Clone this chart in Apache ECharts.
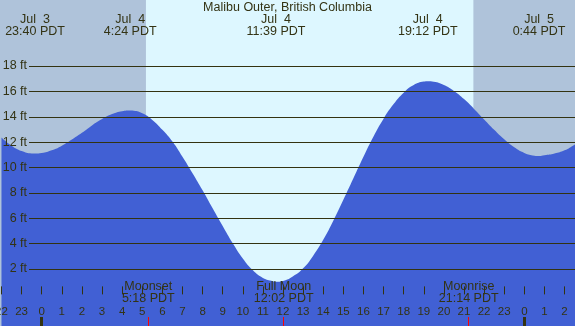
<!DOCTYPE html>
<html>
<head>
<meta charset="utf-8">
<script src="https://cdn.jsdelivr.net/npm/echarts@6/dist/echarts.min.js"></script>
<style>
  html, body { margin: 0; padding: 0; background: #ddf7ff; }
  #chart { width: 575px; height: 326px; }
</style>
</head>
<body>
<div id="chart"></div>
<script>
// tide height, every half hour (hours from Jul 4 00:00 PDT)
var curveHours = [-2, -1.5, -1, -0.5, 0, 0.5, 1, 1.5, 2, 2.5, 3, 3.5, 4, 4.5, 5, 5.5, 6, 6.5, 7, 7.5,
  8, 8.5, 9, 9.5, 10, 10.5, 11, 11.5, 12, 12.5, 13, 13.5, 14, 14.5, 15, 15.5, 16, 16.5, 17, 17.5,
  18, 18.5, 19, 19.5, 20, 20.5, 21, 21.5, 22, 22.5, 23, 23.5, 24, 24.5, 25, 25.5, 26, 26.5, 27]
var curveFeet = [12.37, 11.72, 11.3, 11.11, 11.14, 11.35, 11.72, 12.21, 12.74, 13.32, 13.82, 14.21, 14.44, 14.49, 14.27, 13.75, 12.97, 12.05, 10.85, 9.55,
  8.2, 6.78, 5.38, 4.02, 2.82, 1.9, 1.3, 1.04, 1.06, 1.42, 2.05, 3.05, 4.3, 5.8, 7.45, 9.15, 10.85, 12.45, 13.85, 15.0,
  15.9, 16.5, 16.77, 16.76, 16.5, 16.03, 15.39, 14.62, 13.79, 12.97, 12.22, 11.59, 11.15, 10.93, 10.96, 11.1, 11.35, 11.8, 12.3]

// highs and lows
var extremeDay = [-1, 0, 0, 0, 1]
var extremeDate = ['Jul  3', 'Jul  4', 'Jul  4', 'Jul  4', 'Jul  5']
var extremeClock = ['23:40', '4:24', '11:39', '19:12', '0:44']
var extremeFeet = [11.1, 14.5, 1.0, 16.8, 10.9]

// moon events (Jul 4)
var moonNames = ['Moonset', 'Full Moon', 'Moonrise']
var moonClock = ['5:18', '12:02', '21:14']

// sun
var sunrise = '5:11'
var sunset = '21:28'

var hourTicks = [-2, -1, 0, 1, 2, 3, 4, 5, 6, 7, 8, 9, 10, 11, 12, 13, 14, 15, 16, 17, 18, 19, 20, 21, 22, 23, 24, 25, 26]
var midnightTicks = [0, 24]

var X_MIN = -2.074
var X_MAX = 26.52
var TXT = '#333314'
var LINE = '#333311'
var FONT = 'Liberation Sans'

function toHours (clock, day) {
  var p = clock.split(':')
  return (day || 0) * 24 + parseInt(p[0], 10) + parseInt(p[1], 10) / 60
}

var extremeT = extremeClock.map(function (c, i) { return toHours(c, extremeDay[i]) })
var moonT = moonClock.map(function (c) { return toHours(c, 0) })
var sunriseT = toHours(sunrise, 0)
var sunsetT = toHours(sunset, 0)

var pts = curveHours.map(function (h, i) { return [h, curveFeet[i]] })
extremeT.forEach(function (t, i) { pts.push([t, extremeFeet[i]]) })
pts.sort(function (a, b) { return a[0] - b[0] })

function findIdx (arr, v) {
  for (var i = 0; i < arr.length; i++) {
    if (Math.abs(arr[i] - v) < 1e-6) return i
  }
  return -1
}

function baseX (extra) {
  var ax = {
    type: 'value',
    gridIndex: 0,
    min: X_MIN,
    max: X_MAX,
    position: 'bottom',
    z: 5,
    axisLine: { show: false },
    splitLine: { show: false },
    axisTick: { show: false },
    axisLabel: { show: false }
  }
  for (var k in extra) ax[k] = extra[k]
  return ax
}

var chart = echarts.init(document.getElementById('chart'))
chart.setOption({
  animation: false,
  backgroundColor: '#ddf7ff',
  title: {
    text: 'Malibu Outer, British Columbia',
    left: 'center',
    top: 1,
    padding: 0,
    textStyle: { fontFamily: FONT, fontSize: 12.5, fontWeight: 'normal', color: TXT }
  },
  grid: [
    { left: 0, right: 0, top: 0, bottom: 0, outerBoundsMode: 'none' },
    { left: 29, right: 0, top: 66, bottom: 57, outerBoundsMode: 'none' }
  ],
  xAxis: [
    baseX({
      axisTick: { show: true, inside: true, length: 8, customValues: hourTicks, lineStyle: { color: LINE, width: 1 } },
      axisLabel: {
        show: true,
        inside: true,
        margin: 8,
        customValues: hourTicks,
        fontFamily: FONT,
        fontSize: 11.5,
        color: TXT,
        formatter: function (v) { return String(((Math.round(v) % 24) + 24) % 24) }
      }
    }),
    baseX({
      axisTick: { show: true, inside: true, length: 9, customValues: midnightTicks, lineStyle: { color: LINE, width: 3 } }
    }),
    baseX({
      z: 6,
      axisTick: { show: true, inside: true, length: 9, customValues: moonT, lineStyle: { color: '#ff0000', width: 1 } },
      axisLabel: {
        show: true,
        inside: true,
        margin: 21,
        customValues: moonT,
        fontFamily: FONT,
        fontSize: 12.5,
        lineHeight: 12,
        color: TXT,
        formatter: function (v) {
          var i = findIdx(moonT, v)
          return i < 0 ? '' : moonNames[i] + '\n' + moonClock[i] + ' PDT'
        }
      }
    }),
    baseX({
      position: 'top',
      axisLabel: {
        show: true,
        inside: true,
        margin: 14,
        customValues: extremeT,
        fontFamily: FONT,
        fontSize: 12.5,
        lineHeight: 12,
        color: TXT,
        formatter: function (v) {
          var i = findIdx(extremeT, v)
          return i < 0 ? '' : extremeDate[i] + '\n' + extremeClock[i] + ' PDT'
        }
      }
    }),
    { type: 'value', gridIndex: 1, min: 0, max: 1, show: false }
  ],
  yAxis: [
    { type: 'value', gridIndex: 0, min: -2.4926, max: 23.202, show: false },
    {
      type: 'value',
      gridIndex: 1,
      min: 2,
      max: 18,
      interval: 2,
      z: 4,
      axisLine: { show: false },
      axisTick: { show: false },
      splitLine: { show: true, lineStyle: { color: LINE, width: 1 } },
      axisLabel: {
        margin: 2,
        fontFamily: FONT,
        fontSize: 12.5,
        color: TXT,
        formatter: '{value} ft'
      }
    }
  ],
  series: [
    {
      name: 'night',
      type: 'line',
      xAxisIndex: 0,
      yAxisIndex: 0,
      z: 1,
      data: [],
      silent: true,
      markArea: {
        silent: true,
        itemStyle: { color: '#afc3da', opacity: 1 },
        data: [
          [{ xAxis: X_MIN }, { xAxis: sunriseT }],
          [{ xAxis: sunsetT }, { xAxis: X_MAX }]
        ]
      }
    },
    {
      name: 'tide',
      type: 'line',
      xAxisIndex: 0,
      yAxisIndex: 0,
      z: 2,
      smooth: true,
      showSymbol: false,
      silent: true,
      lineStyle: { width: 0 },
      areaStyle: { color: '#4160d4', opacity: 1, origin: 'start' },
      data: pts
    }
  ]
})
</script>
</body>
</html>
